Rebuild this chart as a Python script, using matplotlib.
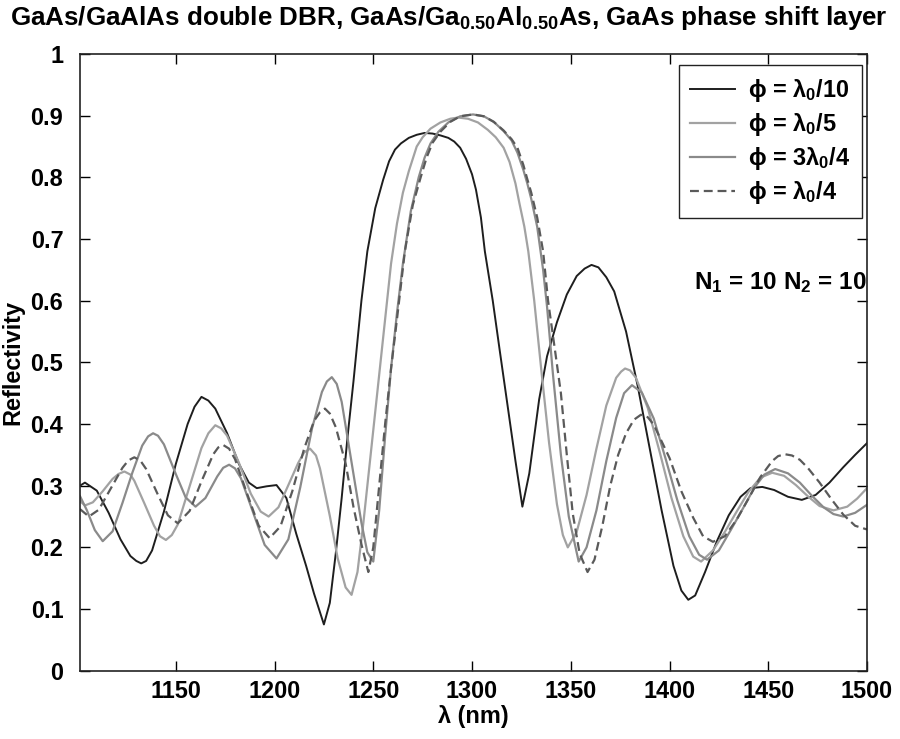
import matplotlib
matplotlib.use("Agg")
import matplotlib.pyplot as plt
from matplotlib import font_manager as fm

# ---------------- data ----------------
black_x = [1101.5, 1104, 1110, 1116, 1122, 1127, 1130, 1132.5, 1135, 1138, 1144, 1150, 1156,
           1159.5, 1163, 1166.5, 1170, 1176, 1182, 1187, 1191, 1196, 1201, 1206, 1211, 1216,
           1220, 1225, 1228, 1231, 1234, 1237, 1240, 1244, 1247, 1251, 1255, 1258, 1261, 1264,
           1268, 1272, 1276, 1280, 1284, 1288, 1291, 1294, 1297, 1300, 1302, 1304.5, 1306.5,
           1310.5, 1314, 1318, 1322, 1325.5, 1329, 1334, 1338, 1343, 1348, 1353, 1357, 1360.5,
           1364, 1368, 1372, 1378, 1384, 1390, 1396, 1402, 1406, 1409.5, 1413, 1418, 1424,
           1430, 1436, 1441, 1447, 1453, 1460, 1467, 1474, 1481, 1488, 1494, 1500]
black_y = [0.300, 0.305, 0.292, 0.256, 0.213, 0.186, 0.178, 0.174, 0.178, 0.195, 0.258, 0.335,
           0.400, 0.428, 0.444, 0.438, 0.425, 0.385, 0.335, 0.305, 0.296, 0.299, 0.301, 0.280,
           0.222, 0.170, 0.125, 0.075, 0.110, 0.190, 0.280, 0.380, 0.470, 0.600, 0.680, 0.750,
           0.796, 0.826, 0.845, 0.855, 0.864, 0.869, 0.872, 0.871, 0.868, 0.864, 0.858, 0.848,
           0.830, 0.805, 0.780, 0.735, 0.680, 0.600, 0.520, 0.430, 0.340, 0.266, 0.320, 0.440,
           0.510, 0.565, 0.610, 0.640, 0.652, 0.658, 0.654, 0.638, 0.615, 0.550, 0.460, 0.360,
           0.260, 0.170, 0.130, 0.115, 0.122, 0.160, 0.210, 0.252, 0.282, 0.296, 0.298, 0.293,
           0.282, 0.277, 0.285, 0.305, 0.330, 0.350, 0.369]

p_x = [1101.5, 1104, 1108, 1113, 1118, 1121, 1124, 1127, 1129, 1134, 1139, 1142, 1145, 1148,
       1151, 1157, 1163, 1166.5, 1170, 1173, 1176, 1182, 1188, 1193, 1197, 1202, 1207, 1212,
       1215, 1218, 1221, 1223, 1228, 1232, 1236, 1239, 1242, 1245, 1248, 1251, 1254, 1257,
       1259, 1262, 1265, 1268, 1272, 1275, 1279, 1284, 1289, 1293, 1298, 1303, 1308, 1312,
       1316, 1319, 1322, 1324, 1326.5, 1328.5, 1331.5, 1335, 1339, 1343, 1346, 1348.5, 1353,
       1358, 1363, 1368, 1373, 1375.5, 1377.5, 1380, 1383, 1389, 1395, 1401, 1407, 1412, 1416,
       1422, 1428, 1434, 1440, 1446, 1452, 1458, 1464, 1470, 1476, 1483, 1490, 1495, 1500]
p_y = [0.275, 0.268, 0.273, 0.291, 0.311, 0.319, 0.323, 0.318, 0.308, 0.272, 0.235, 0.218,
       0.212, 0.220, 0.237, 0.299, 0.361, 0.385, 0.398, 0.393, 0.381, 0.337, 0.287, 0.258,
       0.250, 0.265, 0.301, 0.337, 0.354, 0.360, 0.349, 0.328, 0.251, 0.182, 0.135, 0.123,
       0.160, 0.240, 0.330, 0.420, 0.510, 0.600, 0.660, 0.725, 0.775, 0.810, 0.850, 0.865,
       0.879, 0.889, 0.895, 0.897, 0.895, 0.889, 0.877, 0.865, 0.848, 0.825, 0.790, 0.758,
       0.720, 0.680, 0.600, 0.490, 0.370, 0.270, 0.220, 0.200, 0.225, 0.285, 0.360, 0.430,
       0.475, 0.485, 0.490, 0.487, 0.475, 0.426, 0.355, 0.280, 0.218, 0.185, 0.177, 0.195,
       0.225, 0.258, 0.290, 0.313, 0.321, 0.316, 0.301, 0.283, 0.267, 0.260, 0.266, 0.279,
       0.296]

q_x = [1101.5, 1105, 1109, 1113, 1118, 1123, 1128, 1133, 1136, 1138.5, 1141, 1144, 1150, 1155,
       1160, 1165, 1171, 1174, 1177, 1180, 1183, 1189, 1195, 1201, 1207, 1213, 1219, 1224,
       1226.5, 1229, 1231.5, 1234, 1239, 1244, 1247, 1250, 1253, 1256, 1259, 1262, 1265, 1269,
       1273, 1276, 1279, 1283, 1288, 1294, 1300.5, 1306, 1311, 1316, 1320, 1323, 1326, 1328,
       1330, 1333, 1336, 1338, 1341, 1345, 1349, 1354, 1358, 1363, 1368, 1373, 1377, 1381,
       1386, 1392, 1398, 1404, 1410, 1415, 1419, 1425, 1431, 1437, 1443, 1448, 1453.5, 1460,
       1466, 1472, 1478, 1483, 1488, 1494, 1500]
q_y = [0.283, 0.260, 0.228, 0.210, 0.226, 0.272, 0.321, 0.365, 0.380, 0.385, 0.381, 0.367,
       0.319, 0.281, 0.266, 0.280, 0.315, 0.329, 0.334, 0.328, 0.312, 0.258, 0.204, 0.182,
       0.213, 0.297, 0.393, 0.452, 0.469, 0.476, 0.465, 0.436, 0.338, 0.240, 0.192, 0.177,
       0.260, 0.380, 0.490, 0.580, 0.660, 0.745, 0.800, 0.832, 0.855, 0.874, 0.889, 0.899,
       0.902, 0.899, 0.890, 0.875, 0.860, 0.840, 0.812, 0.790, 0.765, 0.720, 0.650, 0.590,
       0.480, 0.350, 0.250, 0.177, 0.200, 0.260, 0.340, 0.410, 0.450, 0.463, 0.451, 0.409,
       0.344, 0.276, 0.218, 0.188, 0.180, 0.195, 0.228, 0.262, 0.297, 0.318, 0.327, 0.320,
       0.305, 0.284, 0.265, 0.254, 0.250, 0.256, 0.269]

d_x = [1101.5, 1106, 1111, 1117, 1123, 1126, 1129, 1132, 1135, 1141, 1146, 1151, 1157, 1163,
       1169, 1171.5, 1174, 1177, 1180, 1186, 1192, 1197.5, 1203, 1209, 1215, 1220, 1223,
       1225.5, 1228, 1231, 1236, 1240, 1244, 1247.5, 1250, 1253, 1256, 1259, 1262, 1266, 1270,
       1274, 1277, 1280, 1284, 1289, 1294, 1300.5, 1306, 1311, 1316, 1320, 1323, 1326, 1328,
       1330, 1333, 1336, 1338.5, 1342, 1345, 1348, 1351, 1354.5, 1358.5, 1362, 1366, 1370,
       1374, 1378, 1382, 1385.5, 1389, 1392, 1400, 1406, 1412, 1417, 1422, 1428, 1434, 1440,
       1446, 1452, 1455, 1458.5, 1462, 1466, 1470, 1476, 1482, 1488, 1494, 1500]
d_y = [0.262, 0.250, 0.261, 0.295, 0.329, 0.341, 0.346, 0.341, 0.327, 0.285, 0.252, 0.239,
       0.259, 0.307, 0.351, 0.362, 0.366, 0.360, 0.343, 0.288, 0.235, 0.215, 0.234, 0.291,
       0.360, 0.405, 0.419, 0.425, 0.417, 0.395, 0.336, 0.265, 0.205, 0.160, 0.200, 0.300,
       0.400, 0.490, 0.570, 0.680, 0.755, 0.800, 0.832, 0.856, 0.874, 0.890, 0.899, 0.902,
       0.899, 0.890, 0.876, 0.862, 0.848, 0.820, 0.797, 0.775, 0.735, 0.680, 0.600, 0.520,
       0.450, 0.350, 0.255, 0.190, 0.160, 0.180, 0.235, 0.300, 0.350, 0.385, 0.407, 0.415,
       0.411, 0.399, 0.345, 0.291, 0.248, 0.218, 0.209, 0.218, 0.245, 0.279, 0.314, 0.340,
       0.348, 0.351, 0.349, 0.342, 0.329, 0.305, 0.278, 0.253, 0.235, 0.229]

labels = [r"ϕ = λ$_0$/10", r"ϕ = λ$_0$/5", r"ϕ = 3λ$_0$/4", r"ϕ = λ$_0$/4"]
x_ticks = [1150, 1200, 1250, 1300, 1350, 1400, 1450, 1500]
y_ticks = [0, 0.1, 0.2, 0.3, 0.4, 0.5, 0.6, 0.7, 0.8, 0.9, 1]
y_tick_labels = ["0", "0.1", "0.2", "0.3", "0.4", "0.5", "0.6", "0.7", "0.8", "0.9", "1"]
title = "GaAs/GaAlAs double DBR, GaAs/Ga$_{0.50}$Al$_{0.50}$As, GaAs phase shift layer"
note = "N$_1$ = 10 N$_2$ = 10"

# ---------------- fonts ----------------
names = {f.name for f in fm.fontManager.ttflist}
NARROW = "Liberation Sans Narrow" in names
FONT = "Liberation Sans Narrow" if NARROW else "Liberation Sans"
S = 1.0 if NARROW else 0.84
plt.rcParams["font.family"] = [FONT, "Liberation Sans", "DejaVu Sans"]
plt.rcParams["font.weight"] = "bold"
plt.rcParams["mathtext.fontset"] = "custom"
plt.rcParams["mathtext.rm"] = FONT + ":bold"
plt.rcParams["mathtext.it"] = FONT + ":bold"
plt.rcParams["mathtext.bf"] = FONT + ":bold"
plt.rcParams["mathtext.default"] = "bf"

# ---------------- figure ----------------
fig = plt.figure(figsize=(9.0, 7.39), dpi=100)
ax = fig.add_axes([80 / 900, 1 - 670.7 / 739, 787 / 900, 616.7 / 739])

ax.plot(black_x, black_y, color="#1e1e1e", lw=1.4, label=labels[0])
ax.plot(p_x, p_y, color="#a2a2a2", lw=1.6, label=labels[1])
ax.plot(q_x, q_y, color="#8a8a8a", lw=1.6, label=labels[2])
ax.plot(d_x, d_y, color="#5a5a5a", lw=1.6, ls=(0, (4, 2.2)), label=labels[3])

ax.set_xlim(1101.5, 1500)
ax.set_ylim(0, 1)
ax.set_xticks(x_ticks)
ax.set_xticklabels([str(t) for t in x_ticks])
ax.set_yticks(y_ticks)
ax.set_yticklabels(y_tick_labels)
ax.tick_params(direction="in", top=True, right=True, length=7, width=1.0,
               labelsize=20.2 * S)
ax.tick_params(axis="x", pad=7)
ax.tick_params(axis="y", pad=12)
for sp in ax.spines.values():
    sp.set_linewidth(1.2)
    sp.set_color("#222222")

ax.set_xlabel("λ (nm)", fontsize=20.2 * S, fontweight="bold", labelpad=1)
ax.set_ylabel("Reflectivity", fontsize=20.2 * S, fontweight="bold")
ax.yaxis.set_label_coords(-0.071, 0.5)
fig.text(0.499, 1 - 18 / 739, title, ha="center", va="center",
         fontsize=22.3 * S, fontweight="bold")

ax.text(0.999, 0.629, note, transform=ax.get_yaxis_transform(), ha="right",
        va="center", fontsize=20.8 * S, fontweight="bold")

leg = ax.legend(loc="upper right", bbox_to_anchor=(0.9936, 0.982), borderaxespad=0,
                fancybox=False, framealpha=1, edgecolor="#222222",
                prop={"size": 20.2 * S, "weight": "bold"},
                handlelength=1.9, handletextpad=0.55, labelspacing=0.3,
                borderpad=0.5)
leg.get_frame().set_linewidth(1.0)

fig.savefig("out.png", dpi=100)
